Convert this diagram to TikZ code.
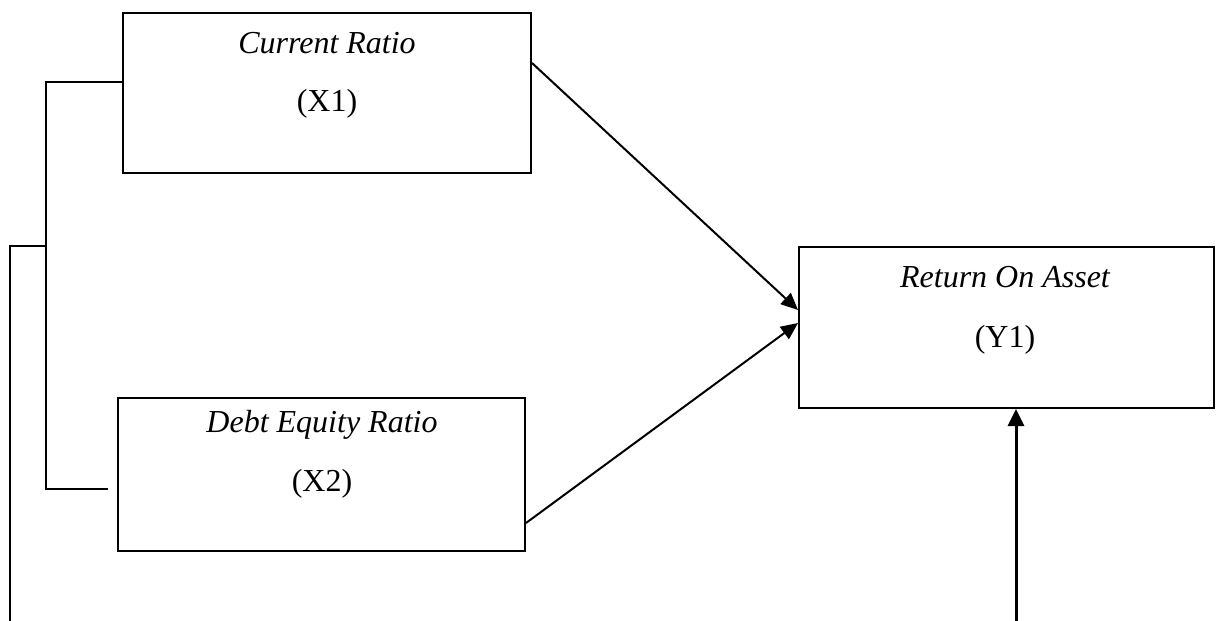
\documentclass[tikz,border=0pt]{standalone}
\usepackage{fontspec}
\setmainfont{Liberation Serif}
\usetikzlibrary{arrows.meta,calc}
\begin{document}
\begin{tikzpicture}[x=1bp,y=-1bp,
  varbox/.style={draw,line width=2bp,rectangle,inner sep=0pt,anchor=north west},
  lbl/.style={font=\fontsize{32bp}{38bp}\selectfont,inner sep=0pt},
  conn/.style={line width=2bp},
  arr/.style={line width=2bp,-{Triangle[length=17bp,width=15bp]}}]
\useasboundingbox (0,0) rectangle (1217,621);
% boxes
\node[varbox,minimum width=408bp,minimum height=160bp] (x1) at (122,12) {};
\node[varbox,minimum width=407bp,minimum height=153bp] (x2) at (117,397) {};
\node[varbox,minimum width=415bp,minimum height=161bp] (y1) at (798,246) {};
% labels
\node[lbl] (x1a) at (327,43) {\itshape Current Ratio};
\node[lbl] (x1b) at (327,104) {(X1)};
\node[lbl] (x2a) at (322,425) {\itshape Debt Equity Ratio};
\node[lbl] (x2b) at (322,484) {(X2)};
\node[lbl] (y1a) at (1005,277) {\itshape Return On Asset};
\node[lbl] (y1b) at (1005,340) {(Y1)};
% bracket on the left
\coordinate (b1) at (46,82);
\coordinate (b2) at (46,489);
\coordinate (b3) at (108,489);
\coordinate (b4) at (10,246);
\coordinate (b5) at (46,246);
\coordinate (b6) at (10,621);
\draw[conn] (x1.west |- b1) -- (b1) -- (b2) -- (b3);
\draw[conn] (b5) -- (b4) -- (b6);
% arrows
\draw[arr] ([yshift=-51bp]x1.north east) -- ([yshift=-64bp]y1.north west);
\draw[arr] ([yshift=29bp]x2.south east) -- ([yshift=-77bp]y1.north west);
\coordinate (up) at (1016,621);
\draw[arr,line width=3bp,-{Triangle[length=17bp,width=16bp]}] (up) -- (up |- y1.south);
\end{tikzpicture}
\end{document}
